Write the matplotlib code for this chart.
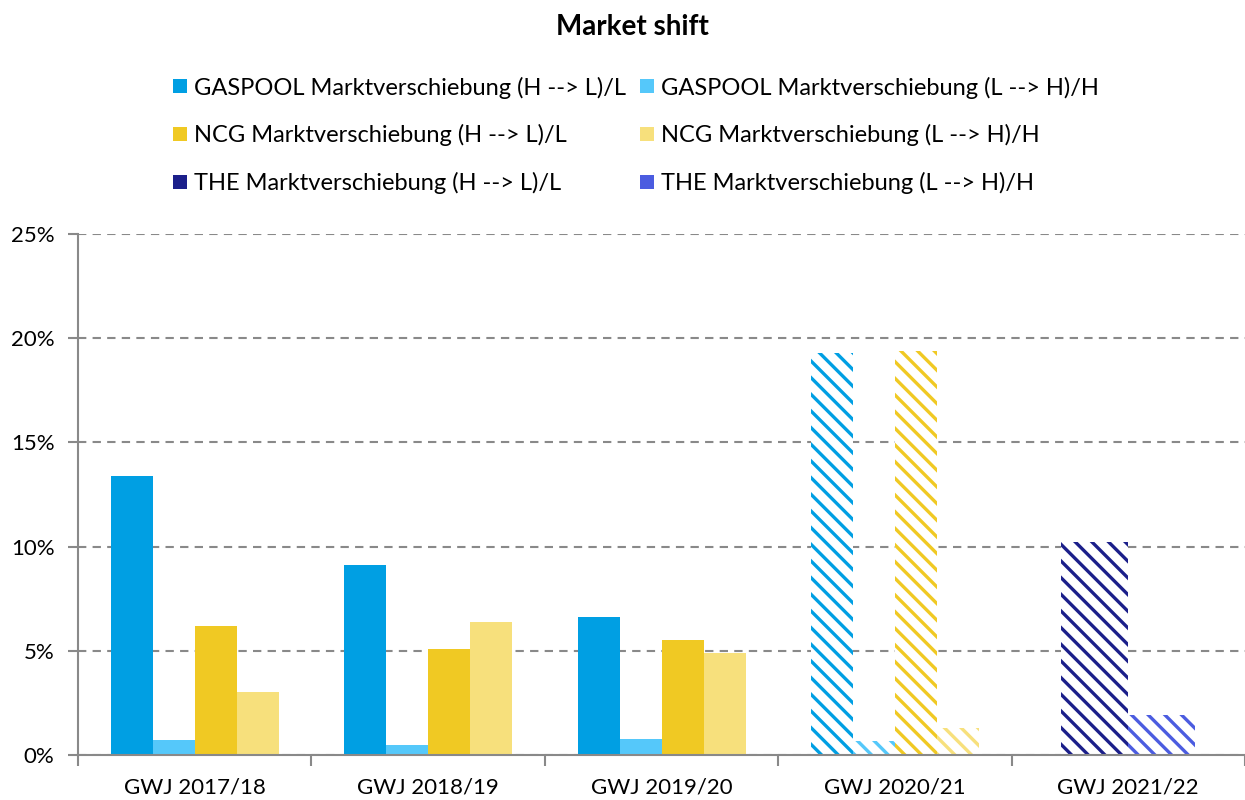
import matplotlib
matplotlib.use("Agg")
import matplotlib.pyplot as plt
from matplotlib.lines import Line2D
import numpy as np

plt.rcParams['font.family'] = ['Lato', 'DejaVu Sans']
plt.rcParams['hatch.linewidth'] = 2.4

categories = ['GWJ 2017/18', 'GWJ 2018/19', 'GWJ 2019/20', 'GWJ 2020/21', 'GWJ 2021/22']
hatched = [False, False, False, True, True]

series_names = [
    'GASPOOL Marktverschiebung (H --> L)/L',
    'GASPOOL Marktverschiebung (L --> H)/H',
    'NCG Marktverschiebung (H --> L)/L',
    'NCG Marktverschiebung (L --> H)/H',
    'THE Marktverschiebung (H --> L)/L',
    'THE Marktverschiebung (L --> H)/H',
]
gaspool_hl = [13.4, 9.1, 6.6, 19.3, None]
gaspool_lh = [0.7, 0.5, 0.75, 0.65, None]
ncg_hl = [6.2, 5.1, 5.5, 19.4, None]
ncg_lh = [3.0, 6.4, 4.9, 1.3, None]
the_hl = [None, None, None, None, 10.2]
the_lh = [None, None, None, None, 1.9]

colors = ['#009FE3', '#55C8FA', '#F0C923', '#F7E07C', '#1B1F8A', '#4B5CE0']
series = [gaspool_hl, gaspool_lh, ncg_hl, ncg_lh, the_hl, the_lh]

fig = plt.figure(figsize=(12.45, 8), dpi=100)
ax = fig.add_axes([0.0627, 0.05625, 0.9373, 0.65125])

# bar width depends on how many series exist in a category
widths = {4: 0.18, 2: 0.287}
for i, cat in enumerate(categories):
    present = [k for k in range(len(series)) if series[k][i] is not None]
    n = len(present)
    w = widths.get(n, 0.18)
    for j, k in enumerate(present):
        x = i + (j - (n - 1) / 2) * w
        if hatched[i]:
            ax.bar(x, series[k][i], width=w, facecolor='white', edgecolor=colors[k],
                   hatch='\\\\', linewidth=0, zorder=3)
        else:
            ax.bar(x, series[k][i], width=w, color=colors[k], linewidth=0, zorder=3)

ax.set_xlim(-0.5, 4.5)
ax.set_ylim(0, 25)
ax.set_yticks([0, 5, 10, 15, 20, 25])
ax.set_yticklabels([f'{v}%' for v in [0, 5, 10, 15, 20, 25]])
ax.set_xticks(np.arange(-0.5, 5, 1))
ax.set_xticklabels([])
ax.set_xticks(np.arange(len(categories)), minor=True)
ax.set_xticklabels(categories, minor=True)
ax.tick_params(axis='x', which='minor', length=0, pad=16, labelsize=16)
ax.tick_params(axis='x', which='major', length=8, color='#898989', width=1.5)
ax.tick_params(axis='y', length=7, color='#898989', width=1.5, labelsize=16, pad=10)

for s in ['top', 'right']:
    ax.spines[s].set_visible(False)
for s in ['left', 'bottom']:
    ax.spines[s].set_color('#898989')
    ax.spines[s].set_linewidth(1.5)
ax.spines['bottom'].set_zorder(4)

ax.yaxis.grid(True, linestyle=(0, (4, 3)), color='#898989', linewidth=1.5, zorder=0)
ax.set_axisbelow(True)

fig.text(0.508, 0.966, 'Market shift', ha='center', va='center', fontsize=20, fontweight='bold')

# legend fills by column, so reorder to get row-wise pairs
order = [0, 2, 4, 1, 3, 5]
handles = [Line2D([], [], marker='s', linestyle='none', markersize=10,
                  markerfacecolor=colors[k], markeredgewidth=0) for k in order]
labels = [series_names[k] for k in order]
fig.legend(handles, labels, loc='center', bbox_to_anchor=(0.509, 0.831), ncol=2,
           frameon=False, fontsize=17, handletextpad=0.1, columnspacing=0.4,
           labelspacing=1.08, handlelength=1.0)

fig.savefig('out.png', dpi=100)
